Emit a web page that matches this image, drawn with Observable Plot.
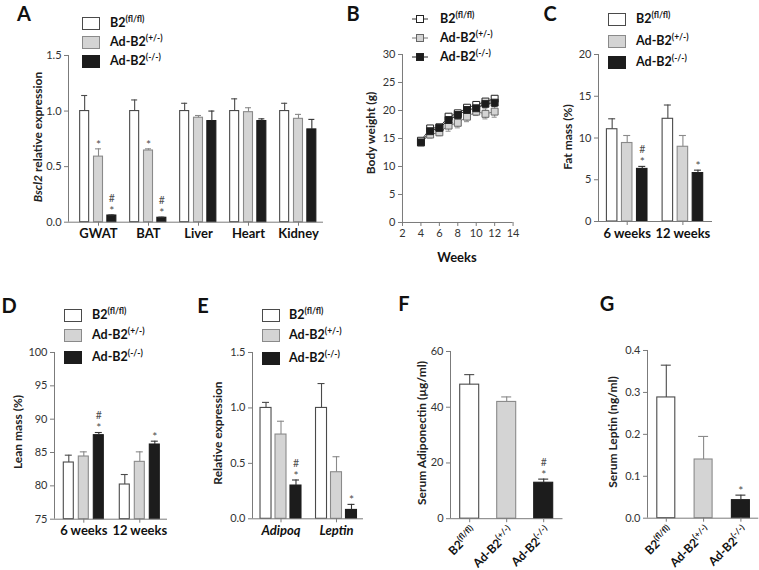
<!DOCTYPE html>
<html><head><meta charset="utf-8">
<script src="https://cdn.jsdelivr.net/npm/d3@7"></script>
<script src="https://cdn.jsdelivr.net/npm/@observablehq/plot@0.6"></script>
<style>
body{margin:0;background:#fff;font-family:Lato,sans-serif;}
#fig{position:relative;width:759px;height:570px;overflow:hidden;background:#fff;}
#fig svg{overflow:visible;}
.letter{position:absolute;font:bold 20px Lato,sans-serif;color:#111;transform:translate(-50%,-50%);line-height:16px;}
.ylab{position:absolute;font:bold 12px Lato,sans-serif;color:#222;white-space:nowrap;transform:translate(-50%,-50%) rotate(-90deg);line-height:1;}
.xlab{position:absolute;font:bold 13px Lato,sans-serif;color:#111;white-space:nowrap;transform:translate(-50%,-50%);line-height:1;}
.lbox{position:absolute;box-sizing:border-box;width:18px;height:13px;}
.ltxt{position:absolute;font:bold 12.5px Lato,sans-serif;color:#111;white-space:nowrap;line-height:13px;}
.ltxt sup{font-size:8.5px;vertical-align:0;position:relative;top:-5px;}
</style></head>
<body><div id="fig"></div>
<script>
// ---------- data ----------
const seriesBase = ["B2", "Ad-B2", "Ad-B2"];
const seriesSup = ["(fl/fl)", "(+/-)", "(-/-)"];

// A: Bscl2 relative expression
const tissues = ["GWAT", "BAT", "Liver", "Heart", "Kidney"];
const bscl2Mean = [
  [1.00, 1.00, 1.00, 1.00, 1.00],
  [0.59, 0.645, 0.94, 0.99, 0.93],
  [0.06, 0.04, 0.91, 0.91, 0.835]];
const bscl2Err = [
  [0.14, 0.10, 0.07, 0.11, 0.07],
  [0.07, 0.015, 0.02, 0.04, 0.04],
  [0.005, 0.005, 0.09, 0.02, 0.09]];
const bscl2Sig = [["", "", "", "", ""], ["*", "*", "", "", ""], ["#*", "#*", "", "", ""]];

// B: body weight
const weeks = [4, 5, 6, 7, 8, 9, 10, 11, 12];
const bwMean = [
  [14.6, 16.8, 17.0, 18.9, 19.5, 20.5, 21.0, 21.6, 22.1],
  [14.3, 15.7, 16.1, 17.3, 17.8, 18.9, 19.8, 19.4, 19.8],
  [14.3, 16.3, 16.9, 18.3, 19.2, 20.1, 20.4, 21.2, 21.4]];
const bwErr = [
  [0.3, 0.4, 0.4, 0.5, 0.4, 0.5, 0.5, 0.5, 0.5],
  [0.4, 0.6, 0.6, 1.0, 0.9, 0.9, 0.7, 0.9, 1.0],
  [0.3, 0.4, 0.4, 0.5, 0.5, 0.5, 0.5, 0.6, 0.7]];
const weekTicks = [2, 4, 6, 8, 10, 12, 14];

// C: fat mass
const ages = ["6 weeks", "12 weeks"];
const fatMean = [[11.05, 12.3], [9.4, 8.95], [6.3, 5.8]];
const fatErr = [[1.25, 1.65], [0.9, 1.35], [0.3, 0.35]];
const fatSig = [["", ""], ["", ""], ["#*", "*"]];

// D: lean mass
const leanMean = [[83.5, 80.2], [84.4, 83.6], [87.6, 86.2]];
const leanErr = [[1.1, 1.5], [0.7, 1.5], [0.4, 0.5]];
const leanSig = [["", ""], ["", ""], ["#*", "*"]];

// E: relative expression
const genes = ["Adipoq", "Leptin"];
const exprMean = [[1.0, 1.0], [0.76, 0.42], [0.30, 0.08]];
const exprErr = [[0.05, 0.22], [0.12, 0.14], [0.05, 0.05]];
const exprSig = [["", ""], ["", ""], ["#*", "*"]];

// F: serum adiponectin
const adipoMean = [48.1, 41.9, 12.9];
const adipoErr = [3.6, 1.8, 1.3];
const adipoSig = ["", "", "#*"];

// G: serum leptin
const leptinMean = [0.288, 0.14, 0.043];
const leptinErr = [0.077, 0.055, 0.012];
const leptinSig = ["", "", "*"];

// ---------- styles ----------
const fills = ["#ffffff", "#d4d4d4", "#1c1c1c"];
const strokes = ["#4a4a4a", "#8a8a8a", "#1c1c1c"];
const errStroke = ["#4a4a4a", "#8a8a8a", "#333333"];
const axisCol = "#7a7a7a";
const textCol = "#333";
const fig = document.getElementById("fig");

function place(el, left, top) {
  el.style.position = "absolute";
  el.style.left = left + "px";
  el.style.top = top + "px";
  fig.appendChild(el);
}
function addHTML(cls, html, left, top, extra) {
  const d = document.createElement("div");
  d.className = cls;
  d.innerHTML = html;
  d.style.left = left + "px";
  d.style.top = top + "px";
  if (extra) Object.assign(d.style, extra);
  fig.appendChild(d);
  return d;
}
const seriesHTML = i => `${seriesBase[i]}<sup>${seriesSup[i]}</sup>`;

function barLegend(bx, tx, ys) {
  ys.forEach((y, i) => {
    addHTML("lbox", "", bx, y - 6.5, {background: fills[i], border: `1px solid ${strokes[i]}`});
    addHTML("ltxt", seriesHTML(i), tx, y - 7);
  });
}

function barPanel(o) {
  const mL = 48, mR = 6, mT = 14, mB = 45;
  const W = mL + (o.x1 - o.x0) + mR, H = mT + (o.yBot - o.yTop) + mB;
  const xdom = [(o.x0 - o.c0) / o.P, (o.x1 - o.c0) / o.P];
  const bw = o.bwPx / o.P, cap = o.capPx / o.P;
  const ymin = o.ydom[0];
  const rows = [];
  if (o.single) {
    o.groups.forEach((g, gi) => rows.push({gi, si: gi, x: gi, v: o.mean[gi], e: o.err[gi], s: o.sig[gi]}));
  } else {
    o.groups.forEach((g, gi) => o.mean.forEach((arr, si) =>
      rows.push({gi, si, x: gi + o.offsets[si], v: arr[gi], e: o.err[si][gi], s: o.sig[si][gi]})));
  }
  const idx = o.groups.map((g, i) => i);
  const marks = [
    Plot.rect(rows, {x1: d => d.x - bw / 2, x2: d => d.x + bw / 2, y1: () => ymin, y2: "v",
      fill: d => fills[d.si], stroke: d => strokes[d.si], strokeWidth: 1.1}),
    Plot.ruleX(rows, {x: "x", y1: "v", y2: d => d.v + d.e, stroke: d => errStroke[d.si], strokeWidth: 1.1}),
    Plot.ruleY(rows, {y: d => d.v + d.e, x1: d => d.x - cap, x2: d => d.x + cap, stroke: d => errStroke[d.si], strokeWidth: 1.1}),
    Plot.text(rows.filter(d => d.s.includes("*")), {x: "x", y: d => d.v + d.e, text: () => "*", dy: -4, fontSize: 12, fill: "#4d4d4d"}),
    Plot.text(rows.filter(d => d.s.includes("#")), {x: "x", y: d => d.v + d.e, text: () => "#", dy: -16.5, fontSize: 10.5, fill: "#4d4d4d"}),
    Plot.ruleY([ymin], {stroke: axisCol}),
    Plot.ruleX([xdom[0]], {stroke: axisCol}),
    Plot.axisY({ticks: o.yticks, tickFormat: o.yfmt, tickSize: 4, tickPadding: 3, stroke: axisCol, fill: textCol, fontSize: 11, label: null}),
  ];
  if (o.rotLabels) {
    marks.push(Plot.axisX({ticks: idx, tickFormat: () => "", tickSize: 4, stroke: axisCol, label: null}));
    marks.push((index, scales) => {
      const g = d3.create("svg:g").attr("font-family", "Lato, sans-serif").attr("font-weight", "bold").attr("font-size", 12).attr("fill", "#111");
      o.groups.forEach((name, i) => {
        const x = scales.x(i), y = scales.y(ymin);
        const t = g.append("text").attr("text-anchor", "end").attr("transform", `translate(${x + 8},${y + 14}) rotate(-45)`);
        t.append("tspan").text(seriesBase[i]);
        t.append("tspan").attr("font-size", 8.5).attr("dy", -5).text(seriesSup[i]);
      });
      return g.node();
    });
  } else {
    marks.push(Plot.axisX({ticks: idx, tickFormat: i => o.groups[i], tickSize: 4, tickPadding: 3, stroke: axisCol, fill: "#111",
      fontSize: 13, fontWeight: "bold", fontStyle: o.italic ? "italic" : "normal", label: null}));
  }
  const svg = Plot.plot({
    width: W, height: H, marginLeft: mL, marginRight: mR, marginTop: mT, marginBottom: mB,
    style: {fontFamily: "Lato, sans-serif", fontSize: "11px", background: "none", overflow: "visible"},
    x: {domain: xdom}, y: {domain: o.ydom},
    color: {type: "identity"},
    marks
  });
  place(svg, o.x0 - mL, o.yTop - mT);
}

const f1 = d3.format(".1f"), f0 = d3.format("d");

// ---------- Panel A ----------
barPanel({x0: 68, x1: 323, yTop: 55, yBot: 221.7, ydom: [0, 1.5], yticks: [0, 0.5, 1, 1.5], yfmt: f1,
  c0: 98, P: 50, offsets: [-0.277, 0, 0.267], bwPx: 9, capPx: 3,
  groups: tissues, mean: bscl2Mean, err: bscl2Err, sig: bscl2Sig});
barLegend(82, 110, [23, 42, 61]);
addHTML("letter", "A", 24, 13);
addHTML("ylab", "<i>Bscl2</i> relative expression", 37.5, 137);

// ---------- Panel B ----------
(function () {
  const mL = 48, mR = 6, mT = 14, mB = 45;
  const x0 = 401.7, x1 = 512.3, yTop = 53.7, yBot = 221.7;
  const W = mL + (x1 - x0) + mR, H = mT + (yBot - yTop) + mB;
  const rows = [];
  [1, 0, 2].forEach(si => weeks.forEach((w, wi) => rows.push({si, w, v: bwMean[si][wi], e: bwErr[si][wi]})));
  const lineCol = ["#333", "#777", "#222"];
  const cap = 2.5 / 9.2;
  const svg = Plot.plot({
    width: W, height: H, marginLeft: mL, marginRight: mR, marginTop: mT, marginBottom: mB,
    style: {fontFamily: "Lato, sans-serif", fontSize: "11px", background: "none", overflow: "visible"},
    x: {domain: [2, 14]}, y: {domain: [0, 30]},
    color: {type: "identity"},
    marks: [
      Plot.ruleX(rows, {x: "w", y1: d => d.v - d.e, y2: d => d.v + d.e, stroke: d => errStroke[d.si]}),
      Plot.ruleY(rows, {y: d => d.v + d.e, x1: d => d.w - cap, x2: d => d.w + cap, stroke: d => errStroke[d.si]}),
      Plot.ruleY(rows, {y: d => d.v - d.e, x1: d => d.w - cap, x2: d => d.w + cap, stroke: d => errStroke[d.si]}),
      Plot.line(rows, {x: "w", y: "v", z: "si", stroke: d => lineCol[d.si], strokeWidth: 1}),
      Plot.dot(rows, {x: "w", y: "v", symbol: "square", r: 3.9, fill: d => fills[d.si], stroke: d => d.si === 1 ? "#666" : "#222", strokeWidth: 1}),
      Plot.ruleY([0], {stroke: axisCol}),
      Plot.ruleX([2], {stroke: axisCol}),
      Plot.axisY({ticks: [0, 5, 10, 15, 20, 25, 30], tickFormat: f0, tickSize: 4, tickPadding: 3, stroke: axisCol, fill: textCol, fontSize: 11, label: null}),
      Plot.axisX({ticks: weekTicks, tickFormat: f0, tickSize: 4, tickPadding: 3, stroke: axisCol, fill: textCol, fontSize: 11, label: null})
    ]
  });
  place(svg, x0 - mL, yTop - mT);
  // legend
  [19, 38, 57].forEach((y, i) => {
    const s = `<svg width="18" height="10" style="position:absolute;left:0;top:0;overflow:visible">
      <line x1="0" x2="16" y1="5" y2="5" stroke="${lineCol[i]}" stroke-width="1"/>
      <rect x="4.5" y="1.5" width="7" height="7" fill="${fills[i]}" stroke="${i === 1 ? "#666" : "#222"}"/></svg>`;
    addHTML("", s, 412, y - 5, {position: "absolute", width: "18px", height: "10px"});
    addHTML("ltxt", seriesHTML(i), 440, y - 7);
  });
  addHTML("letter", "B", 353, 13);
  addHTML("ylab", "Body weight (g)", 371, 133);
  addHTML("xlab", "Weeks", 457, 257);
})();

// ---------- Panel C ----------
barPanel({x0: 598, x1: 712, yTop: 54, yBot: 221, ydom: [0, 20], yticks: [0, 5, 10, 15, 20], yfmt: f0,
  c0: 626.7, P: 55.7, offsets: [-0.27, 0, 0.27], bwPx: 10.5, capPx: 3.5,
  groups: ages, mean: fatMean, err: fatErr, sig: fatSig});
barLegend(608, 636, [19, 41, 62]);
addHTML("letter", "C", 550, 13);
addHTML("ylab", "Fat mass (%)", 568, 137);

// ---------- Panel D ----------
barPanel({x0: 54, x1: 167, yTop: 351.6, yBot: 518.3, ydom: [75, 100], yticks: [75, 80, 85, 90, 95, 100], yfmt: f0,
  c0: 83.3, P: 56, offsets: [-0.268, 0, 0.268], bwPx: 10, capPx: 3.5,
  groups: ages, mean: leanMean, err: leanErr, sig: leanSig});
barLegend(64, 92, [315, 335, 357]);
addHTML("letter", "D", 9, 305);
addHTML("ylab", "Lean mass (%)", 17.5, 432);

// ---------- Panel E ----------
barPanel({x0: 252, x1: 363, yTop: 352, yBot: 518.3, ydom: [0, 1.5], yticks: [0, 0.5, 1, 1.5], yfmt: f1,
  c0: 280.5, P: 55.5, offsets: [-0.27, 0, 0.27], bwPx: 11, capPx: 3.5, italic: true,
  groups: genes, mean: exprMean, err: exprErr, sig: exprSig});
barLegend(262, 289, [315, 335, 358]);
addHTML("letter", "E", 203, 305);
addHTML("ylab", "Relative expression", 218, 433);

// ---------- Panel F ----------
barPanel({x0: 449.5, x1: 562, yTop: 350.5, yBot: 517.7, ydom: [0, 60], yticks: [0, 20, 40, 60], yfmt: f0,
  c0: 468.7, P: 37, single: true, bwPx: 19, capPx: 5, rotLabels: true,
  groups: seriesBase, mean: adipoMean, err: adipoErr, sig: adipoSig});
addHTML("letter", "F", 404, 303);
addHTML("ylab", "Serum Adiponectin (µg/ml)", 421.5, 432.5);

// ---------- Panel G ----------
barPanel({x0: 646.7, x1: 758, yTop: 350, yBot: 517.7, ydom: [0, 0.4], yticks: [0, 0.1, 0.2, 0.3, 0.4], yfmt: f1,
  c0: 665.5, P: 37.3, single: true, bwPx: 18, capPx: 5, rotLabels: true,
  groups: seriesBase, mean: leptinMean, err: leptinErr, sig: leptinSig});
addHTML("letter", "G", 607, 303);
addHTML("ylab", "Serum Leptin (ng/ml)", 612.5, 432);
</script>
</body></html>
